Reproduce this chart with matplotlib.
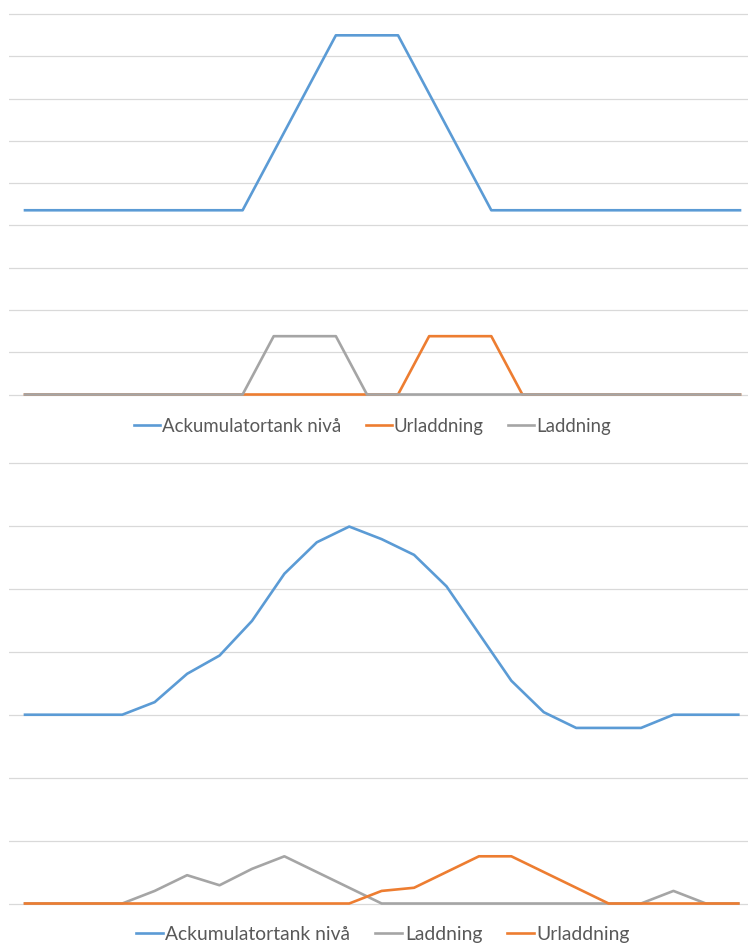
import matplotlib
matplotlib.use("Agg")
import matplotlib.pyplot as plt

# Top chart: idealised charge / discharge cycle (24 time steps)
top_level = [4.36, 4.36, 4.36, 4.36, 4.36, 4.36, 4.36, 4.36,
             5.74, 7.12, 8.5, 8.5, 8.5, 7.12, 5.74, 4.36,
             4.36, 4.36, 4.36, 4.36, 4.36, 4.36, 4.36, 4.36]
top_discharge = [0, 0, 0, 0, 0, 0, 0, 0, 0, 0, 0, 0,
                 0, 1.38, 1.38, 1.38, 0, 0, 0, 0, 0, 0, 0, 0]
top_charge = [0, 0, 0, 0, 0, 0, 0, 0, 1.38, 1.38, 1.38, 0,
              0, 0, 0, 0, 0, 0, 0, 0, 0, 0, 0, 0]

# Bottom chart: real operating day (23 time steps)
bot_level = [3.0, 3.0, 3.0, 3.0, 3.2, 3.65, 3.94, 4.49, 5.24, 5.74, 5.99, 5.79,
             5.54, 5.04, 4.29, 3.54, 3.04, 2.79, 2.79, 2.79, 3.0, 3.0, 3.0]
bot_charge = [0, 0, 0, 0, 0.2, 0.45, 0.29, 0.55, 0.75, 0.5, 0.25, 0,
              0, 0, 0, 0, 0, 0, 0, 0, 0.2, 0, 0]
bot_discharge = [0, 0, 0, 0, 0, 0, 0, 0, 0, 0, 0, 0.2,
                 0.25, 0.5, 0.75, 0.75, 0.5, 0.25, 0, 0, 0, 0, 0]

LABEL_LEVEL = "Ackumulatortank nivå"
LABEL_DIS = "Urladdning"
LABEL_CHG = "Laddning"

BLUE = "#5B9BD5"
ORANGE = "#ED7D31"
GRAY = "#A5A5A5"
GRID = "#D9D9D9"
TEXT = "#595959"

W, H = 748, 945
fig = plt.figure(figsize=(W / 100, H / 100), dpi=100)
plt.rcParams["font.family"] = ["Lato", "DejaVu Sans"]


def px_axes(left, right, top, bottom):
    return fig.add_axes([left / W, 1 - bottom / H, (right - left) / W, (bottom - top) / H])


def style(ax, ymax):
    for s in ax.spines.values():
        s.set_visible(False)
    ax.set_yticks(range(0, ymax + 1))
    ax.set_xticks([])
    ax.tick_params(left=False, labelleft=False, bottom=False, labelbottom=False)
    ax.grid(axis="y", color=GRID, linewidth=0.9)
    ax.set_axisbelow(True)


LW = 1.9

# ---- top chart ----
ax1 = px_axes(9, 748, 5, 401)
x1 = list(range(len(top_level)))
ppu_x1 = (740 - 25) / (len(x1) - 1)
y0_1, y9_1 = 395.5, 15.2
ppu_y1 = (y0_1 - y9_1) / 9
ax1.set_xlim(-(25 - 9) / ppu_x1, (len(x1) - 1) + (748 - 740) / ppu_x1)
ax1.set_ylim(-(401 - y0_1) / ppu_y1, 9 + (y9_1 - 5) / ppu_y1)
style(ax1, 9)
l1, = ax1.plot(x1, top_level, color=BLUE, lw=LW, label=LABEL_LEVEL)
l2, = ax1.plot(x1, top_discharge, color=ORANGE, lw=LW, label=LABEL_DIS)
l3, = ax1.plot(x1, top_charge, color=GRAY, lw=LW, label=LABEL_CHG)

leg_kw = dict(frameon=False, ncol=3, loc="center", fontsize=13.4,
              handlelength=1.4, handletextpad=0.12, columnspacing=1.3,
              labelcolor=TEXT)
fig.legend(handles=[l1, l2, l3], bbox_to_anchor=(372.5 / W, 1 - 427 / H), **leg_kw)

# ---- bottom chart ----
ax2 = px_axes(9, 748, 455, 911)
x2 = list(range(len(bot_level)))
ppu_x2 = (738.3 - 25) / (len(x2) - 1)
y0_2, y7_2 = 904.5, 464
ppu_y2 = (y0_2 - y7_2) / 7
ax2.set_xlim(-(25 - 9) / ppu_x2, (len(x2) - 1) + (748 - 738.3) / ppu_x2)
ax2.set_ylim(-(911 - y0_2) / ppu_y2, 7 + (y7_2 - 455) / ppu_y2)
style(ax2, 7)
m1, = ax2.plot(x2, bot_level, color=BLUE, lw=LW, label=LABEL_LEVEL)
m2, = ax2.plot(x2, bot_charge, color=GRAY, lw=LW, label=LABEL_CHG)
m3, = ax2.plot(x2, bot_discharge, color=ORANGE, lw=LW, label=LABEL_DIS)

leg_kw2 = dict(leg_kw, fontsize=13.9)
fig.legend(handles=[m1, m2, m3], bbox_to_anchor=(383 / W, 1 - 935 / H), **leg_kw2)

fig.savefig("out.png", dpi=100, facecolor="white")
